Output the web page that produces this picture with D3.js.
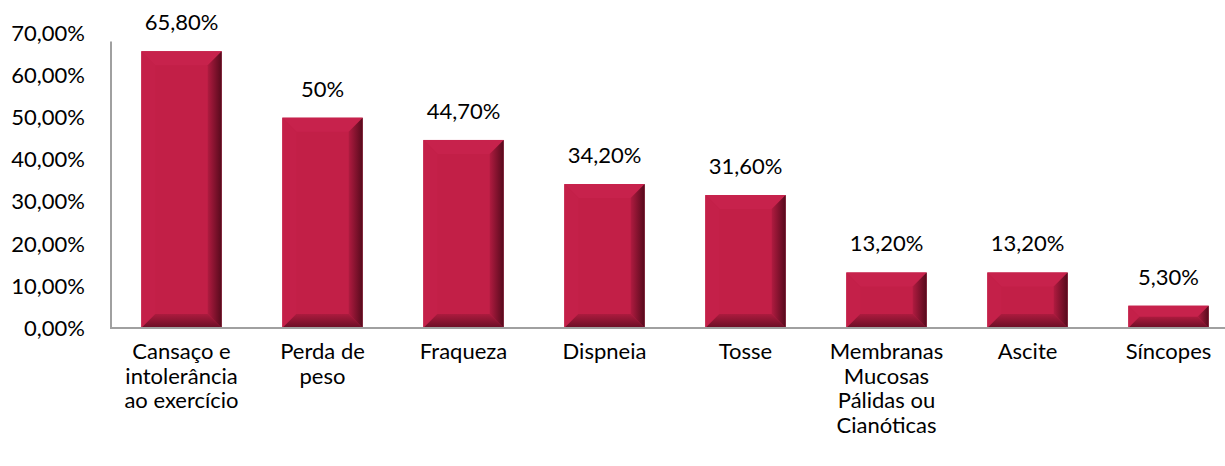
<!DOCTYPE html>
<html>
<head>
<meta charset="utf-8">
<script src="https://cdn.jsdelivr.net/npm/d3@7"></script>
<style>
  body { margin: 0; background: #fff; }
  svg { display: block; font-family: Lato, "Open Sans", sans-serif; }
</style>
</head>
<body>
<svg id="chart" width="1225" height="466"></svg>
<script>
// categories, split in lines as on the axis
const categories = [
  ["Cansaço e", "intolerância", "ao exercício"],
  ["Perda de", "peso"],
  ["Fraqueza"],
  ["Dispneia"],
  ["Tosse"],
  ["Membranas", "Mucosas", "Pálidas ou", "Cianóticas"],
  ["Ascite"],
  ["Síncopes"]
];
const values = [65.8, 50, 44.7, 34.2, 31.6, 13.2, 13.2, 5.3];
const valueLabels = ["65,80%", "50%", "44,70%", "34,20%", "31,60%", "13,20%", "13,20%", "5,30%"];
const yTicks = [0, 10, 20, 30, 40, 50, 60, 70];

const svg = d3.select("#chart");

const x = d3.scaleBand()
  .domain(d3.range(values.length))
  .range([111, 1239])
  .paddingInner(0.43)
  .paddingOuter(0.215);

const y = d3.scaleLinear()
  .domain([0, 70])
  .range([328, 33.5]);

const fmt = d => d3.format(".2f")(d).replace(".", ",") + "%";

// gradients for the bevel faces
const defs = svg.append("defs");
const gRight = defs.append("linearGradient").attr("id", "gRight")
  .attr("x1", 0).attr("x2", 1).attr("y1", 0).attr("y2", 0);
gRight.append("stop").attr("offset", 0).attr("stop-color", "#b01b40");
gRight.append("stop").attr("offset", 1).attr("stop-color", "#560a1c");
const gBottom = defs.append("linearGradient").attr("id", "gBottom")
  .attr("x1", 0).attr("x2", 0).attr("y1", 0).attr("y2", 1);
gBottom.append("stop").attr("offset", 0).attr("stop-color", "#ac1b3e");
gBottom.append("stop").attr("offset", 1).attr("stop-color", "#690e25");

// y axis labels
svg.append("g")
  .selectAll("text")
  .data(yTicks)
  .join("text")
  .attr("x", 85)
  .attr("y", d => y(d))
  .attr("dy", "0.35em")
  .attr("text-anchor", "end")
  .attr("font-size", 22)
  .attr("fill", "#000")
  .text(fmt);

// bars
const bars = svg.append("g")
  .selectAll("g")
  .data(values)
  .join("g");

bars.each(function (d, i) {
  const g = d3.select(this);
  const x0 = x(i), x1 = x(i) + x.bandwidth();
  const y0 = y(d), y1 = y(0);
  const b = Math.min(14, (y1 - y0) / 2);

  g.append("rect")
    .attr("x", x0).attr("y", y0)
    .attr("width", x1 - x0).attr("height", y1 - y0)
    .attr("fill", "#c21f47");
  // top face
  g.append("polygon")
    .attr("points", [[x0, y0], [x1, y0], [x1 - b, y0 + b], [x0 + b, y0 + b]].join(" "))
    .attr("fill", "#c7224c");
  // left face
  g.append("polygon")
    .attr("points", [[x0, y0], [x0 + b, y0 + b], [x0 + b, y1 - b], [x0, y1]].join(" "))
    .attr("fill", "#c42049");
  // right face
  g.append("polygon")
    .attr("points", [[x1, y0], [x1, y1], [x1 - b, y1 - b], [x1 - b, y0 + b]].join(" "))
    .attr("fill", "url(#gRight)");
  // bottom face
  g.append("polygon")
    .attr("points", [[x0, y1], [x1, y1], [x1 - b, y1 - b], [x0 + b, y1 - b]].join(" "))
    .attr("fill", "url(#gBottom)");
});

// value labels
svg.append("g")
  .selectAll("text")
  .data(values)
  .join("text")
  .attr("x", (d, i) => x(i) + x.bandwidth() / 2)
  .attr("y", d => y(d) - 21)
  .attr("text-anchor", "middle")
  .attr("font-size", 22)
  .attr("fill", "#000")
  .text((d, i) => valueLabels[i]);

// axis lines
svg.append("line")
  .attr("x1", 111).attr("x2", 111)
  .attr("y1", y(70) + 8).attr("y2", y(0))
  .attr("stroke", "#a0a0a0").attr("stroke-width", 2);
svg.append("line")
  .attr("x1", 110).attr("x2", 1239)
  .attr("y1", y(0)).attr("y2", y(0))
  .attr("stroke", "#a0a0a0").attr("stroke-width", 2);

// category labels
const cat = svg.append("g")
  .selectAll("text")
  .data(categories)
  .join("text")
  .attr("x", (d, i) => x(i) + x.bandwidth() / 2)
  .attr("y", 359)
  .attr("text-anchor", "middle")
  .attr("font-size", 22)
  .attr("fill", "#000");

cat.selectAll("tspan")
  .data(d => d)
  .join("tspan")
  .attr("x", function () { return d3.select(this.parentNode).attr("x"); })
  .attr("dy", (d, j) => j === 0 ? 0 : 24.5)
  .text(d => d);
</script>
</body>
</html>
